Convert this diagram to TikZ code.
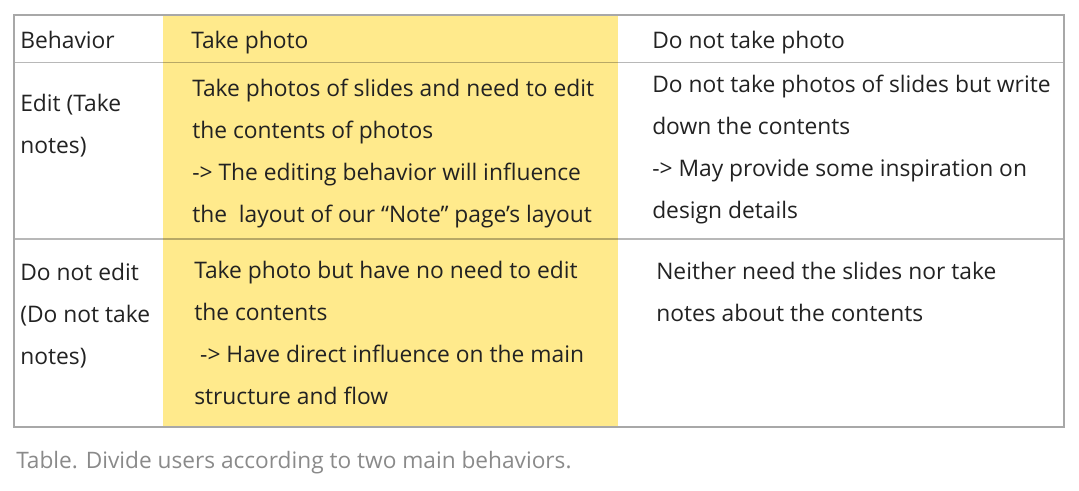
\documentclass[tikz,border=0pt]{standalone}
\usepackage{fontspec}
\setmainfont{Open Sans}
\definecolor{cellyellow}{HTML}{FFEA8C}
\definecolor{txt}{HTML}{222222}
\definecolor{captxt}{HTML}{8A8A8A}
\definecolor{rule}{HTML}{A8A8A8}
\begin{document}
\begin{tikzpicture}[x=0.75pt,y=-0.75pt,
  cell/.style={anchor=base west,inner sep=0pt,text=txt,font=\fontsize{17.1}{20}\selectfont},
  captionstyle/.style={anchor=base west,inner sep=0pt,text=captxt,font=\fontsize{17}{20}\selectfont},
  hline/.style={draw=black,draw opacity=0.28,line width=1.1pt}]
\useasboundingbox (0,0) rectangle (1079,491);
\fill[cellyellow] (163,15) rectangle (618,427);
\draw[hline] (14,62.5) -- (1064,62.5);
\draw[hline] (14,239) -- (1064,239);
\draw[draw=rule,line width=1.2pt] (14,15) rectangle (1064,427);
% header
\node[cell] (h1) at (20,48.5) {Behavior};
\node[cell] (h2) at (191,48.5) {Take photo};
\node[cell] (h3) at (652,48.5) {Do not take photo};
% row 1
\node[cell] (r1a) at (20,112) {Edit (Take};
\node[cell] (r1b) at (20,154) {notes)};
\node[cell] (r1c) at (192,97) {Take photos of slides and need to edit};
\node[cell] (r1d) at (192,139) {the contents of photos};
\node[cell] (r1e) at (192,181) {-> The editing behavior will influence};
\node[cell] (r1f) at (192,223) {the\ \ layout of our “Note” page’s layout};
\node[cell] (r1g) at (652,93) {Do not take photos of slides but write};
\node[cell] (r1h) at (652,135) {down the contents};
\node[cell] (r1i) at (652,177) {-> May provide some inspiration on};
\node[cell] (r1j) at (652,219) {design details};
% row 2
\node[cell] (r2a) at (20,280.5) {Do not edit};
\node[cell] (r2b) at (20,322.5) {(Do not take};
\node[cell] (r2c) at (20,364.5) {notes)};
\node[cell] (r2d) at (194,278.5) {Take photo but have no need to edit};
\node[cell] (r2e) at (194,320.5) {the contents};
\node[cell] (r2f) at (194,362.5) {\ -> Have direct influence on the main};
\node[cell] (r2g) at (194,404.5) {structure and flow};
\node[cell] (r2h) at (656,279.5) {Neither need the slides nor take};
\node[cell] (r2i) at (656,321.5) {notes about the contents};
% caption
\node[captionstyle] (capt) at (16,469) {Table. Divide users according to two main behaviors.};
\end{tikzpicture}
\end{document}
